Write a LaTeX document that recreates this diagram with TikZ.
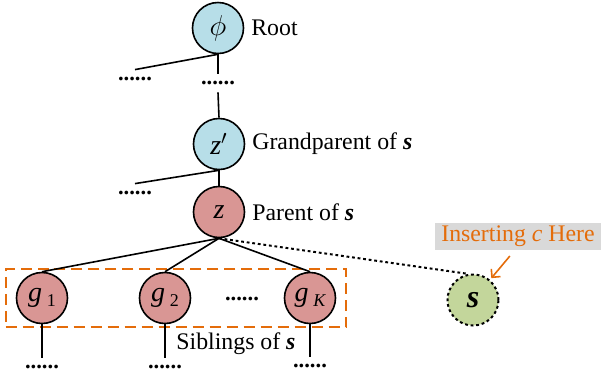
\documentclass[tikz,border=0pt]{standalone}
\usepackage{fontspec}
\setmainfont{Liberation Serif}
\usetikzlibrary{positioning,fit,arrows.meta}
\definecolor{rootblue}{HTML}{B7DEE8}
\definecolor{parentred}{HTML}{D99694}
\definecolor{newgreen}{HTML}{C3D69B}
\definecolor{markorange}{HTML}{E46C0A}
\definecolor{notegray}{HTML}{D9D9D9}
\newcommand{\gsub}[2]{\textit{g}\,\raisebox{-0.4ex}{\fontsize{9}{10}\selectfont #2#1}}
\begin{document}
\begin{tikzpicture}[x=0.5pt,y=-0.5pt,
    font=\fontsize{11.9}{13}\selectfont,
    tnode/.style={circle,draw,line width=0.8pt,minimum size=25.5pt,inner sep=0pt,
        font=\fontsize{14}{16}\selectfont},
    dotsnode/.style={inner sep=0pt,minimum height=9pt,font=\fontsize{11.3}{13}\selectfont\bfseries},
    treeline/.style={line width=0.8pt},
    dotline/.style={line width=1pt,dash pattern=on 1.4pt off 1.4pt}]
    \useasboundingbox (0,0) rectangle (602,377);
    \node[tnode,fill=rootblue] (root) at (218,28) {$\phi$};
    \node[right=0pt of root] {Root};
    \node[dotsnode] (dtop) at (218,83) {......};
    \node[dotsnode] (drootl) at (135,79) {......};
    \node[tnode,fill=rootblue] (zp) at (219,144) {\textit{z}$'$};
    \node[right=0pt of zp] {Grandparent of \textbf{\textit{s}}};
    \node[dotsnode] (dzpl) at (135,193) {......};
    \node[tnode,fill=parentred] (z) at (219,212) {\textit{z}};
    \node[right=0pt of z] {Parent of \textbf{\textit{s}}};
    \node[tnode,fill=parentred] (g1) at (42,298) {\gsub{1}{}};
    \node[tnode,fill=parentred] (g2) at (165,298) {\gsub{2}{}};
    \node[tnode,fill=parentred] (gk) at (310,298) {\gsub{K}{\itshape}};
    \node[dotsnode] (dmid) at (242,299) {......};
    \node[dotsnode] (d1) at (42,367) {......};
    \node[dotsnode] (d2) at (165,367) {......};
    \node[dotsnode] (dk) at (310,366) {......};
    \node (sib) at (236,344) {Siblings of \textbf{\textit{s}}};
    \node[tnode,fill=newgreen,dotline,font=\fontsize{16}{18}\selectfont] (s) at (473,300) {\textbf{\textit{s}}};
    \node[fill=notegray,text=markorange,inner xsep=3pt,inner ysep=1pt,minimum height=13.5pt]
        (ins) at (518,236) {Inserting \textit{c} Here};
    \node[draw=markorange,line width=1pt,dash pattern=on 5.5pt off 3pt,
        inner xsep=5pt,inner ysep=1.5pt,fit=(g1)(gk)] (sibbox) {};
    \draw[treeline] (root.south) -- (dtop.north);
    \draw[treeline] (dtop.south) -- (zp.north);
    \draw[treeline] (root.south) -- (drootl.north);
    \draw[treeline] (zp.south) -- (dzpl.north);
    \draw[treeline] (zp.south) -- (z.north);
    \draw[treeline] (z.south) -- (g1.north);
    \draw[treeline] (z.south) -- (g2.north);
    \draw[treeline] (z.south) -- (gk.north);
    \draw[treeline] (g1.south) -- (d1.north);
    \draw[treeline] (g2.south) -- (d2.north);
    \draw[treeline] (gk.south) -- (dk.north);
    \draw[dotline] (z.south) -- (s.100);
    \draw[markorange,line width=0.8pt,-{Straight Barb[length=3pt]},shorten <=4pt,shorten >=1pt]
        ([xshift=-1.5pt]ins.south) -- (s.50);
\end{tikzpicture}
\end{document}
